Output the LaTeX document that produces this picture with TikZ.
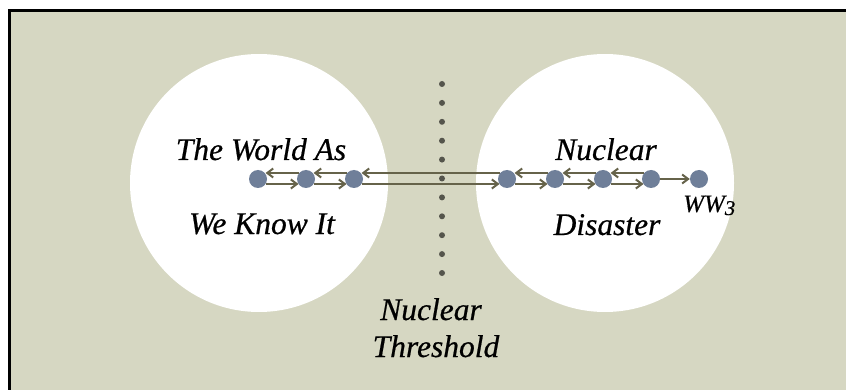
\documentclass[tikz,border=0pt]{standalone}
\usepackage{fontspec}
\setmainfont{Liberation Serif}
\newfontfamily\lblfont[ItalicFeatures={FakeBold=0.6}]{Liberation Serif}
\usetikzlibrary{arrows.meta}
\definecolor{bg}{HTML}{D6D7C2}
\definecolor{dotc}{HTML}{6F7F99}
\definecolor{linec}{HTML}{66634A}
\definecolor{thr}{HTML}{55554C}
\tikzset{
  stage/.style={circle,fill=dotc,inner sep=0pt,minimum size=18pt},
  flow/.style={draw=linec,line width=2.2pt,-{Straight Barb[length=6pt,width=9pt,line width=2pt]}},
  lbl/.style={font=\fontsize{31.5}{36}\selectfont\lblfont\itshape,anchor=base,inner sep=0pt},
  bigcirc/.style={circle,fill=white,inner sep=0pt,minimum size=258pt}
}
\begin{document}
\begin{tikzpicture}[x=1pt,y=-1pt]
\useasboundingbox (0,0) rectangle (846,390);
\fill[white] (0,0) rectangle (846,390);
\fill[bg] (9,11) rectangle (846,390);
\draw[black,line width=3pt] (9,390) -- (9,11) -- (846,11);
\node[bigcirc] (cl) at (259,183) {};
\node[bigcirc] (cr) at (605,183) {};
% threshold dots
\foreach \i in {0,...,10} {
  \fill[thr] (442,{84+18.9*\i}) circle (3pt);
}
% stage dots
\node[stage] (d1) at (258,179) {};
\node[stage] (d2) at (306,179) {};
\node[stage] (d3) at (354,179) {};
\node[stage] (d4) at (507,179) {};
\node[stage] (d5) at (555,179) {};
\node[stage] (d6) at (603,179) {};
\node[stage] (d7) at (651,179) {};
\node[stage] (d8) at (699,179) {};
% rightward (lower) arrows
\foreach \a/\b in {d1/d2,d2/d3,d3/d4,d4/d5,d5/d6,d6/d7} {
  \draw[flow] ([yshift=-5pt,xshift=7.5pt]\a.center) -- ([yshift=-5pt,xshift=-7.5pt]\b.center);
}
% leftward (upper) arrows
\foreach \a/\b in {d2/d1,d3/d2,d4/d3,d5/d4,d6/d5,d7/d6} {
  \draw[flow] ([yshift=6pt,xshift=-7.5pt]\a.center) -- ([yshift=6pt,xshift=7.5pt]\b.center);
}
\draw[flow] (d7) -- (d8);
% labels
\node[lbl] (t1) at (261,160) {The World As};
\node[lbl] (t2) at (262,234) {We Know It};
\node[lbl] (t3) at (606,160) {Nuclear};
\node[lbl] (t4) at (607,235) {Disaster};
\node[lbl] (t5) at (431,320) {Nuclear};
\node[lbl] (t6) at (436,357) {Threshold};
\node[anchor=base west,inner sep=0pt,font=\fontsize{25}{28}\selectfont\lblfont\itshape] (ww) at (683,212) {WW\raisebox{-3pt}{\fontsize{21}{23}\selectfont 3}};
\end{tikzpicture}
\end{document}
